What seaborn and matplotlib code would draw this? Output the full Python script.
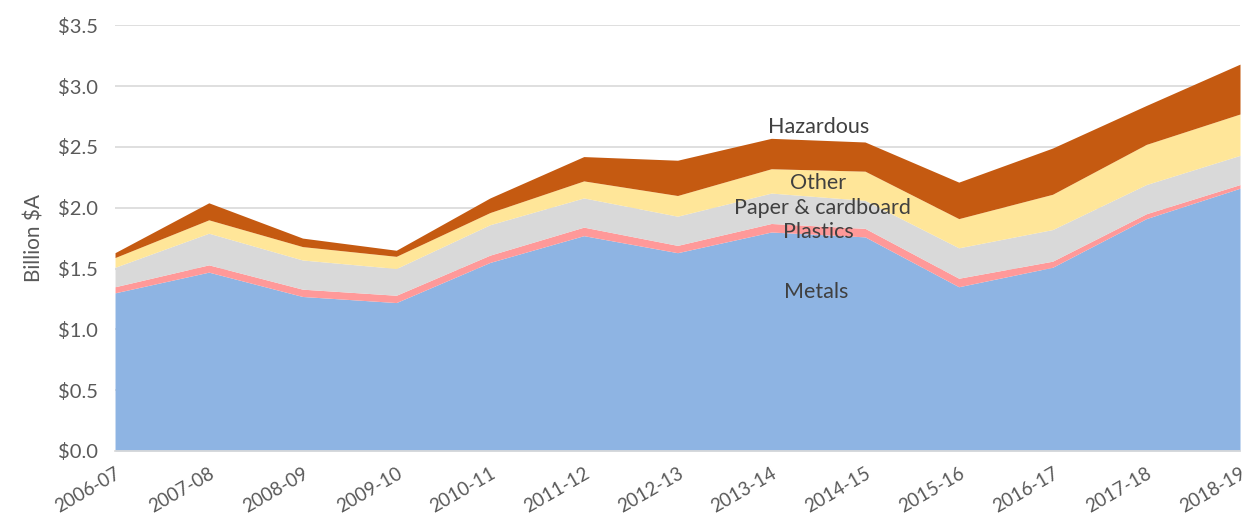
import matplotlib
matplotlib.use("Agg")
import matplotlib.pyplot as plt
import seaborn as sns
import pandas as pd

# Data (billion $A per layer)
years = ['2006-07', '2007-08', '2008-09', '2009-10', '2010-11', '2011-12', '2012-13',
         '2013-14', '2014-15', '2015-16', '2016-17', '2017-18', '2018-19']
metals = [1.30, 1.47, 1.27, 1.22, 1.55, 1.77, 1.63, 1.80, 1.76, 1.35, 1.51, 1.91, 2.16]
plastics = [0.05, 0.06, 0.06, 0.06, 0.06, 0.07, 0.06, 0.07, 0.07, 0.07, 0.05, 0.04, 0.03]
paper = [0.16, 0.26, 0.24, 0.22, 0.25, 0.24, 0.24, 0.25, 0.23, 0.25, 0.26, 0.24, 0.24]
other = [0.08, 0.11, 0.11, 0.10, 0.10, 0.14, 0.17, 0.20, 0.24, 0.24, 0.29, 0.33, 0.34]
hazardous = [0.04, 0.14, 0.07, 0.05, 0.12, 0.20, 0.29, 0.25, 0.24, 0.30, 0.38, 0.32, 0.41]

series_names = ['Metals', 'Plastics', 'Paper & cardboard', 'Other', 'Hazardous']
colours = ['#8EB4E3', '#FF9999', '#D9D9D9', '#FFE699', '#C55A11']
# label positions (x index, y value)
label_x = [7.48, 7.5, 7.55, 7.5, 7.5]
label_y = [1.31, 1.80, 2.00, 2.20, 2.66]

df = pd.DataFrame({'Year': years, 'Metals': metals, 'Plastics': plastics,
                   'Paper & cardboard': paper, 'Other': other, 'Hazardous': hazardous})

sns.set_theme(style="white")
plt.rcParams['font.family'] = ['Lato', 'DejaVu Sans']

fig = plt.figure(figsize=(12.49, 5.25), dpi=100)
ax = fig.add_axes([0.0921, 0.141, 0.9007, 0.811])

x = list(range(len(years)))
ax.stackplot(x, *[df[n] for n in series_names], colors=colours, linewidth=0)

for name, lx, ly in zip(series_names, label_x, label_y):
    ax.text(lx, ly, name, ha='center', va='center', fontsize=15.5, color='#404040')

ax.set_xlim(0, len(years) - 1)
ax.set_ylim(0, 3.5)
ax.set_yticks([i * 0.5 for i in range(8)])
ax.set_yticklabels([f'${i * 0.5:.1f}' for i in range(8)])
ax.set_xticks(x)
ax.set_xticklabels(years, rotation=30, ha='right', rotation_mode='anchor')

ax.yaxis.grid(True, color='#D9D9D9', linewidth=1.2)
ax.set_axisbelow(True)
sns.despine(ax=ax, left=True)
ax.spines['bottom'].set_color('#D9D9D9')
ax.tick_params(axis='x', length=6, color='#D9D9D9', labelsize=13.5, labelcolor='#595959', pad=4)
ax.tick_params(axis='y', length=0, labelsize=14.5, labelcolor='#595959', pad=12)
ax.set_ylabel('Billion $A', fontsize=15, color='#595959', labelpad=10)

fig.savefig('out.png', dpi=100)
